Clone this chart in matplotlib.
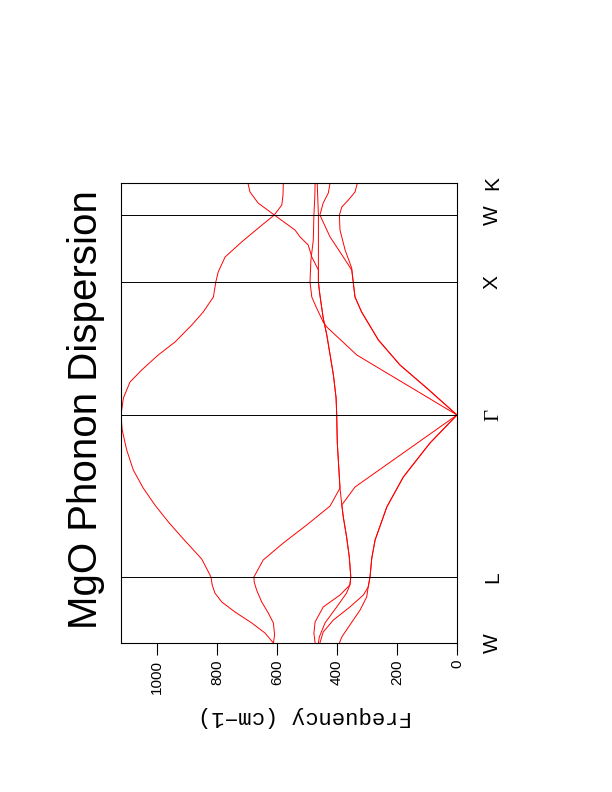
import matplotlib
matplotlib.use('Agg')
import matplotlib.pyplot as plt

# high-symmetry points along the path (distance from the first W)
k_labels = ['W', 'L', 'Γ', 'X', 'W', 'K']
k_points = [0, 66, 228, 361, 428, 460]
freq_ticks = [0, 200, 400, 600, 800, 1000]

# phonon branches: k position and frequency (cm-1)
k_a = [0, 10, 20, 31, 41, 50, 58, 66, 84, 106, 121, 138, 155, 173, 193, 213, 228,
       245, 261, 273, 288, 301, 318, 331, 346, 361, 371, 386, 401, 415, 428, 440, 451, 460]
f_a = [612, 640, 684, 740, 784, 807, 816, 820, 851, 918, 962, 1007, 1046, 1079, 1101, 1116, 1120,
       1112, 1090, 1051, 996, 940, 884, 846, 812, 804, 796, 773, 718, 662, 609, 663, 690, 697]

k_b = [0, 8, 20, 30, 41, 53, 61, 66, 83, 100, 118, 137, 155, 200, 228,
       245, 268, 288, 308, 325, 348, 361, 373, 386, 398, 406, 413, 428, 438, 448, 460]
f_b = [612, 608, 612, 629, 651, 668, 676, 677, 646, 579, 501, 423, 390, 399, 401,
       403, 412, 423, 434, 446, 457, 462, 462, 484, 496, 523, 540, 609, 584, 580, 579]

k_c = [0, 10, 21, 36, 48, 58, 66, 86, 106, 126, 138, 155, 200, 228,
       245, 268, 288, 308, 325, 348, 361, 393, 428, 444, 460]
f_c = [473, 477, 473, 446, 390, 357, 354, 359, 368, 379, 384, 390, 399, 401,
       403, 412, 423, 434, 446, 457, 462, 462, 462, 464, 466]

k_d = [0, 6, 20, 36, 50, 58, 66, 86, 106, 126, 138, 156, 228,
       288, 316, 321, 335, 346, 361, 383, 403, 428, 446, 460]
f_d = [462, 459, 440, 401, 368, 357, 354, 359, 368, 379, 384, 340, 0,
       334, 434, 446, 468, 484, 490, 487, 479, 477, 474, 473]

k_e = [0, 11, 23, 36, 48, 56, 66, 85, 103, 136, 166, 200, 228,
       255, 278, 303, 331, 346, 361, 373, 386, 406, 428, 440, 450, 460]
f_e = [457, 446, 412, 357, 312, 296, 290, 284, 273, 234, 179, 90, 0,
       101, 190, 262, 318, 340, 346, 351, 379, 423, 457, 446, 429, 423]

k_f = [0, 6, 18, 33, 46, 56, 66, 85, 103, 136, 166, 200, 228,
       255, 278, 303, 331, 346, 361, 375, 393, 413, 428, 436, 443, 451, 460]
f_f = [392, 384, 357, 323, 301, 296, 290, 284, 273, 234, 179, 90, 0,
       101, 190, 262, 318, 340, 346, 351, 373, 390, 392, 384, 362, 340, 332]

branches = [(k_a, f_a), (k_b, f_b), (k_c, f_c), (k_d, f_d), (k_e, f_e), (k_f, f_f)]

fig = plt.figure(figsize=(6.12, 7.92), dpi=100)
ax = fig.add_axes([121 / 612, 149 / 792, 336 / 612, 460 / 792])

for k, f in branches:
    ax.plot(f, k, color='red', lw=0.7)

# vertical lines at the inner symmetry points
for kk in k_points[1:-1]:
    ax.axhline(kk, color='black', lw=0.7)

ax.set_xlim(1120, 0)
ax.set_ylim(0, 460)
for s in ax.spines.values():
    s.set_linewidth(0.8)

ax.set_xticks(freq_ticks)
ax.set_xticklabels([str(v) for v in freq_ticks], rotation=90, fontsize=11,
                   family='Liberation Sans')
ax.tick_params(axis='x', direction='out', length=8.5, width=0.8, pad=3.5)
ax.set_yticks([])

for kk, lab in zip(k_points, k_labels):
    fam = 'Liberation Serif' if lab == 'Γ' else 'Liberation Sans'
    ax.text(1.122, kk, lab, transform=ax.get_yaxis_transform(), rotation=90,
            rotation_mode='anchor', ha='center', va='baseline', fontsize=15,
            family=fam)

ax.text(-0.0714, 0.5065, 'MgO Phonon Dispersion', transform=ax.transAxes,
        rotation=90, rotation_mode='anchor', ha='center', va='baseline',
        fontsize=29, family='Liberation Sans')

fig.text(305 / 612, 1 - 717 / 792, 'Frequency (cm−1)', rotation=180,
         rotation_mode='anchor', ha='center', va='center', fontsize=16,
         family=['Liberation Mono', 'DejaVu Sans Mono'])

fig.savefig('out.png', dpi=100)
